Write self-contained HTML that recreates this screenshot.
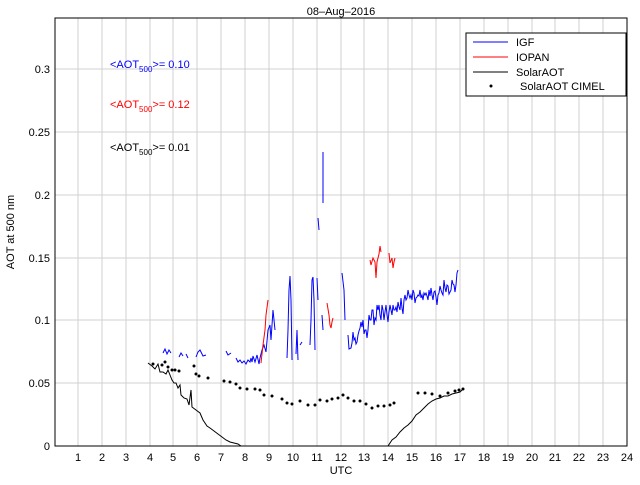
<!DOCTYPE html>
<html><head><style>
body{margin:0;background:#fff;}
svg text{font-family:"Liberation Sans",sans-serif;}
</style></head><body>
<svg width="640" height="480" viewBox="0 0 640 480" xmlns="http://www.w3.org/2000/svg">
<rect width="640" height="480" fill="#fff"/>
<g stroke="#d0d0d0" stroke-width="1">
<line x1="78" y1="18" x2="78" y2="446"/><line x1="102" y1="18" x2="102" y2="446"/><line x1="126" y1="18" x2="126" y2="446"/><line x1="150" y1="18" x2="150" y2="446"/><line x1="173" y1="18" x2="173" y2="446"/><line x1="197" y1="18" x2="197" y2="446"/><line x1="221" y1="18" x2="221" y2="446"/><line x1="245" y1="18" x2="245" y2="446"/><line x1="269" y1="18" x2="269" y2="446"/><line x1="293" y1="18" x2="293" y2="446"/><line x1="317" y1="18" x2="317" y2="446"/><line x1="341" y1="18" x2="341" y2="446"/><line x1="364" y1="18" x2="364" y2="446"/><line x1="388" y1="18" x2="388" y2="446"/><line x1="412" y1="18" x2="412" y2="446"/><line x1="436" y1="18" x2="436" y2="446"/><line x1="460" y1="18" x2="460" y2="446"/><line x1="484" y1="18" x2="484" y2="446"/><line x1="508" y1="18" x2="508" y2="446"/><line x1="532" y1="18" x2="532" y2="446"/><line x1="555" y1="18" x2="555" y2="446"/><line x1="579" y1="18" x2="579" y2="446"/><line x1="603" y1="18" x2="603" y2="446"/>
<line x1="55" y1="383" x2="627" y2="383"/><line x1="55" y1="320" x2="627" y2="320"/><line x1="55" y1="258" x2="627" y2="258"/><line x1="55" y1="195" x2="627" y2="195"/><line x1="55" y1="132" x2="627" y2="132"/><line x1="55" y1="69" x2="627" y2="69"/>
</g>
<rect x="55" y="18" width="572" height="428" fill="none" stroke="#000" stroke-width="1"/>
<g font-size="11" fill="#000" text-anchor="middle">
<text x="78" y="461">1</text><text x="102" y="461">2</text><text x="126" y="461">3</text><text x="150" y="461">4</text><text x="173" y="461">5</text><text x="197" y="461">6</text><text x="221" y="461">7</text><text x="245" y="461">8</text><text x="269" y="461">9</text><text x="293" y="461">10</text><text x="317" y="461">11</text><text x="341" y="461">12</text><text x="364" y="461">13</text><text x="388" y="461">14</text><text x="412" y="461">15</text><text x="436" y="461">16</text><text x="460" y="461">17</text><text x="484" y="461">18</text><text x="508" y="461">19</text><text x="532" y="461">20</text><text x="555" y="461">21</text><text x="579" y="461">22</text><text x="603" y="461">23</text><text x="627" y="461">24</text>
<text x="341" y="474">UTC</text>
<text x="341" y="15">08–Aug–2016</text>
</g>
<g font-size="11" fill="#000" text-anchor="end">
<text x="50" y="450">0</text><text x="50" y="387">0.05</text><text x="50" y="324">0.1</text><text x="50" y="262">0.15</text><text x="50" y="199">0.2</text><text x="50" y="136">0.25</text><text x="50" y="73">0.3</text>
</g>
<text x="14" y="232" font-size="11" text-anchor="middle" transform="rotate(-90 14 232)">AOT at 500 nm</text>
<text x="110" y="68" font-size="11" fill="#0000ff">&lt;AOT<tspan font-size="8" dy="4">500</tspan><tspan dy="-4">&gt;= 0.10</tspan></text>
<text x="110" y="108" font-size="11" fill="#ff0000">&lt;AOT<tspan font-size="8" dy="4">500</tspan><tspan dy="-4">&gt;= 0.12</tspan></text>
<text x="110" y="151" font-size="11" fill="#000">&lt;AOT<tspan font-size="8" dy="4">500</tspan><tspan dy="-4">&gt;= 0.01</tspan></text>
<g fill="none" stroke="#0000ff" stroke-width="1">
<polyline points="163,353 165,349 167,354 169,350 171,353"/>
<polyline points="179,357 181,353 183,356"/>
<polyline points="186,354 188,358"/>
<polyline points="196,357 198,352 200,350 203,356 206,355"/>
<polyline points="226,351 228,355 231,353"/>
<polyline points="236,358 238,362 240,360 242,363 244,361 246,364 248,360 250,362 251,358 252,362 253,356 255,362 257,355 259,364 260,358 262,350 264,345 266,352 268,330 270,325 271,340 273,310 274,320 275,330"/>
<polyline points="287,358 288,330 289,290 290,276 291,300 292,360"/>
<polyline points="296,354 297,330 298,360"/>
<polyline points="300,345 302,342"/>
<polyline points="310,345 311,320 312,280 313,277 314,300 315,350"/>
<polyline points="317,278 318,300"/>
<polyline points="318,218 319,230"/>
<polyline points="323,152 323,203"/>
<polyline points="322,315 323,330"/>
<polyline points="342,273 344,290 345,320"/>
<polyline points="348,335 349,349 351,348 352,343 353,332 354,340 355,338 356,344 357,342 358,335 359,331 360,328 361,322 362,327 363,320 364,334 365,330 366,330 367,338 368,330 369,315 370,320 371,320 372,310 373,310 374,325 375,318 376,320 377,305 378,310 379,305 380,315 381,320 382,305 383,310 384,320 385,312 386,305 387,315 388,322 389,312 390,305 391,310 392,315 393,305 394,310 395,310 396,307 397,312 398,302 399,307 400,310 401,298 402,308 403,314 404,300 405,295 406,300 407,298 408,290 409,295 410,298 411,295 412,300 413,290 414,293 415,303 416,298 417,297 418,295 419,296 420,290 421,298 422,295 423,300 424,293 425,295 426,293 427,296 428,300 429,290 430,296 431,288 432,295 433,300 434,292 435,291 436,297 437,305 438,295 439,293 440,286 441,290 442,293 443,295 444,280 445,288 446,292 447,285 448,286 449,294 450,292 451,290 452,280 453,284 454,285 455,292 456,285 457,273 458,270"/>
</g>
<g fill="none" stroke="#ff0000" stroke-width="1">
<polyline points="261,363 263,345 265,330 266,315 268,300"/>
<polyline points="327,303 329,315 330,325 331,328 332,322 333,318"/>
<polyline points="370,260 371,265 373,258 375,262 376,278 377,262 379,254 380,246 381,252"/>
<polyline points="389,253 390,263 392,258 393,268 394,262 395,258"/>
</g>
<g fill="none" stroke="#000" stroke-width="1">
<polyline points="148,363 152,366 155,369 158,364 160,372 163,372 166,374 168,370 170,375 172,380 174,383 176,383 178,388 180,385 181,395 184,398 187,399 189,405 191,390 192,407 196,410 200,413 203,420 207,426 210,428 214,431 218,434 222,437 226,440 230,442 234,443 238,444 241,446"/>
<polyline points="388,446 392,440 396,437 400,432 404,428 408,425 412,421 416,415 420,412 424,408 428,404 432,401 436,399 440,398 444,396 448,396 452,394 456,393 460,392 463,389"/>
</g>
<g fill="#000">
<circle cx="153" cy="364" r="1.5"/><circle cx="162" cy="365" r="1.5"/><circle cx="165" cy="362" r="1.5"/><circle cx="168" cy="367" r="1.5"/><circle cx="172" cy="370" r="1.5"/><circle cx="175" cy="370" r="1.5"/><circle cx="179" cy="371" r="1.5"/><circle cx="194" cy="366" r="1.5"/><circle cx="196" cy="374" r="1.5"/><circle cx="199" cy="376" r="1.5"/><circle cx="208" cy="378" r="1.5"/><circle cx="224" cy="381" r="1.5"/><circle cx="230" cy="382" r="1.5"/><circle cx="236" cy="384" r="1.5"/><circle cx="240" cy="388" r="1.5"/><circle cx="247" cy="389" r="1.5"/><circle cx="255" cy="389" r="1.5"/><circle cx="260" cy="390" r="1.5"/><circle cx="264" cy="395" r="1.5"/><circle cx="272" cy="396" r="1.5"/><circle cx="282" cy="399" r="1.5"/><circle cx="287" cy="403" r="1.5"/><circle cx="292" cy="404" r="1.5"/><circle cx="300" cy="401" r="1.5"/><circle cx="308" cy="405" r="1.5"/><circle cx="315" cy="405" r="1.5"/><circle cx="320" cy="400" r="1.5"/><circle cx="327" cy="401" r="1.5"/><circle cx="332" cy="399" r="1.5"/><circle cx="338" cy="398" r="1.5"/><circle cx="343" cy="395" r="1.5"/><circle cx="348" cy="398" r="1.5"/><circle cx="354" cy="401" r="1.5"/><circle cx="360" cy="401" r="1.5"/><circle cx="366" cy="404" r="1.5"/><circle cx="372" cy="408" r="1.5"/><circle cx="378" cy="406" r="1.5"/><circle cx="384" cy="406" r="1.5"/><circle cx="390" cy="405" r="1.5"/><circle cx="394" cy="403" r="1.5"/><circle cx="418" cy="393" r="1.5"/><circle cx="425" cy="393" r="1.5"/><circle cx="432" cy="394" r="1.5"/><circle cx="440" cy="396" r="1.5"/><circle cx="448" cy="393" r="1.5"/><circle cx="455" cy="391" r="1.5"/><circle cx="459" cy="390" r="1.5"/><circle cx="463" cy="389" r="1.5"/>
</g>
<rect x="466" y="33" width="160" height="63" fill="#fff" stroke="#000" stroke-width="1"/>
<g font-size="11" fill="#000">
<line x1="473" y1="42" x2="508" y2="42" stroke="#0000ff"/><text x="516" y="46">IGF</text>
<line x1="473" y1="57" x2="508" y2="57" stroke="#ff0000"/><text x="516" y="61">IOPAN</text>
<line x1="473" y1="72" x2="508" y2="72" stroke="#000"/><text x="516" y="76">SolarAOT</text>
<circle cx="491" cy="86" r="1.5"/><text x="520" y="90">SolarAOT CIMEL</text>
</g>
</svg>
</body></html>
